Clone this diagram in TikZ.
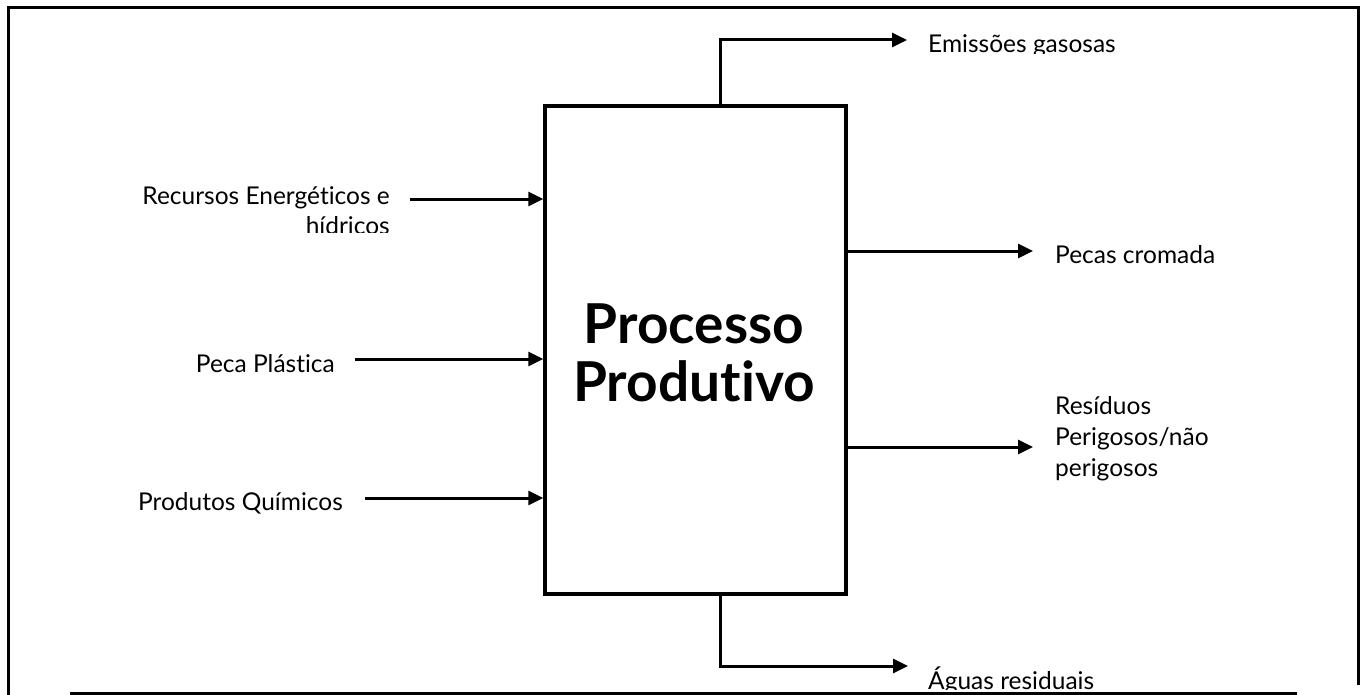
\documentclass[tikz,border=0pt]{standalone}
\usepackage{fontspec}
\setmainfont{Lato}[Ligatures=NoCommon]
\usetikzlibrary{arrows.meta}
\begin{document}
\begin{tikzpicture}[x=1pt,y=-1pt,
  lbl/.style={inner sep=0pt, font=\fontsize{24.5}{30}\selectfont},
  flow/.style={line width=3pt, -{Triangle[length=15pt,width=14pt]}},
  plain/.style={line width=3pt}]
\useasboundingbox (0,0) rectangle (1364,695);
% frame
\draw[plain] (8,695) -- (8,8) -- (1358,8) -- (1358,685);
\draw[plain] (70,693) -- (1297,693);
% process box
\node[draw, line width=3.5pt, minimum width=301pt, minimum height=488pt, inner sep=0pt] (box) at (695.5,350) {};
\node[align=center, inner sep=0pt, font=\bfseries\fontsize{55}{58}\selectfont] (title) at (694,353) {Processo\\Produtivo};
% inputs
\coordinate (r0) at (410,199);
\coordinate (p0) at (355,359);
\coordinate (q0) at (365,498);
\draw[flow] (r0) -- (r0 -| box.west);
\draw[flow] (p0) -- (p0 -| box.west);
\draw[flow] (q0) -- (q0 -| box.west);
\begin{scope}
\clip (100,170) rectangle (400,232);
\node[lbl, anchor=base east, align=right] (rec) at (390,234) {Recursos Energéticos e\\hídricos};
\end{scope}
\node[lbl, anchor=base east] (pec) at (335,372) {Peca Plástica};
\node[lbl, anchor=base east] (quim) at (343,510) {Produtos Químicos};
% outputs
\coordinate (eT) at (907,40);
\coordinate (aT) at (908,666);
\coordinate (cT) at (1033,251);
\coordinate (rT) at (1033,447);
\draw[flow] (box.north -| 720,0) |- (eT);
\draw[flow] (box.south -| 720,0) |- (aT);
\draw[flow] (cT -| box.east) -- (cT);
\draw[flow] (rT -| box.east) -- (rT);
\begin{scope}
\clip (900,20) rectangle (1250,54);
\node[lbl, anchor=base west] (emis) at (928,53) {Emissões gasosas};
\end{scope}
\begin{scope}
\clip (900,640) rectangle (1250,689);
\node[lbl, anchor=base west] (agua) at (928,689) {Águas residuais};
\end{scope}
\node[lbl, anchor=base west] (cro) at (1055,263) {Pecas cromada};
\node[lbl, anchor=base west, align=left, font=\fontsize{24.5}{31}\selectfont] (res) at (1055,476) {Resíduos\\Perigosos/não\\perigosos};
\end{tikzpicture}
\end{document}
